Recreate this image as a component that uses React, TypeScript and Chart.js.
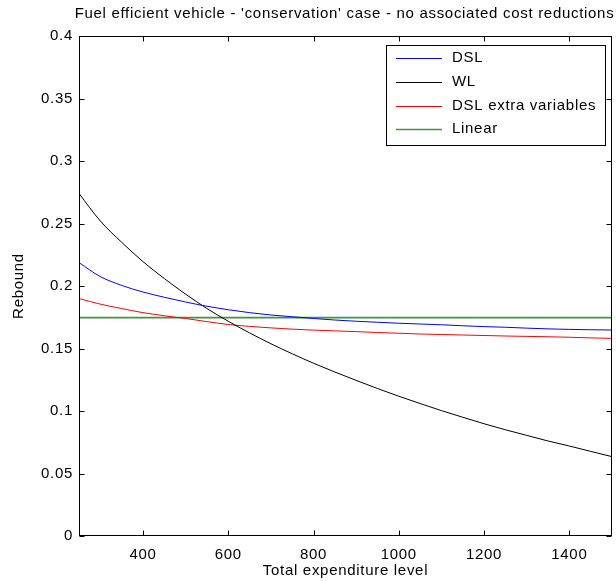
import { useEffect, useRef } from 'react';
import { Chart, registerables } from 'chart.js';

Chart.register(...registerables);

const TITLE = "Fuel efficient vehicle - 'conservation' case - no associated cost reductions";
const X_LABEL = 'Total expenditure level';
const Y_LABEL = 'Rebound';

const xValues = [250, 300, 350, 400, 450, 500, 550, 600, 650, 700, 750, 800, 850, 900, 950, 1000, 1050, 1100, 1150, 1200, 1250, 1300, 1350, 1400, 1450, 1500];
const dsl = [0.2187, 0.2075, 0.2005, 0.1952, 0.1910, 0.1872, 0.1838, 0.1810, 0.1787, 0.1768, 0.1754, 0.1740, 0.1728, 0.1718, 0.1710, 0.1702, 0.1696, 0.1690, 0.1682, 0.1675, 0.1670, 0.1663, 0.1657, 0.1653, 0.1650, 0.1648];
const wl = [0.2740, 0.2520, 0.2350, 0.2195, 0.2060, 0.1935, 0.1820, 0.1718, 0.1625, 0.1538, 0.1458, 0.1382, 0.1312, 0.1245, 0.1180, 0.1118, 0.1060, 0.1003, 0.0950, 0.0898, 0.0850, 0.0805, 0.0760, 0.0720, 0.0677, 0.0635];
const dslExtra = [0.1900, 0.1855, 0.1820, 0.1787, 0.1762, 0.1740, 0.1715, 0.1692, 0.1677, 0.1665, 0.1655, 0.1647, 0.1641, 0.1635, 0.1628, 0.1622, 0.1616, 0.1612, 0.1608, 0.1604, 0.1600, 0.1597, 0.1594, 0.1590, 0.1585, 0.1581];
const linearX = [250, 1500];
const linear = [0.1747, 0.1747];

const seriesNames = ['DSL', 'WL', 'DSL extra variables', 'Linear'];
const seriesColors = ['#0000ff', '#000000', '#ff0000', 'rgb(60,150,60)'];
const seriesWidths = [1, 1, 1, 1.6];

const xTicks = [400, 600, 800, 1000, 1200, 1400];
const xTickLabels = ['400', '600', '800', '1000', '1200', '1400'];
const yTicks = [0, 0.05, 0.1, 0.15, 0.2, 0.25, 0.3, 0.35, 0.4];
const yTickLabels = ['0', '0.05', '0.1', '0.15', '0.2', '0.25', '0.3', '0.35', '0.4'];

const FONT = 'Liberation Sans, Arial, Helvetica, sans-serif';
const FONT_SIZE = 15;
const LETTER_SPACING = '0.7px';

const toPoints = (xs: number[], ys: number[]) => xs.map((x, i) => ({ x, y: ys[i] }));

const spacingPlugin = {
  id: 'letterSpacing',
  beforeDraw(chart: any) {
    try { chart.ctx.letterSpacing = LETTER_SPACING; } catch (e) { /* ignore */ }
  },
};

const framePlugin = {
  id: 'matlabFrame',
  afterDraw(chart: any) {
    const { ctx, chartArea } = chart;
    const xs = chart.scales.x;
    const ys = chart.scales.y;
    const l = Math.round(chartArea.left) + 0.5;
    const r = Math.round(chartArea.right) - 0.5;
    const t = Math.round(chartArea.top) + 0.5;
    const b = Math.round(chartArea.bottom) - 0.5;
    ctx.save();
    try { ctx.letterSpacing = LETTER_SPACING; } catch (e) { /* ignore */ }
    ctx.strokeStyle = '#000';
    ctx.lineWidth = 1;
    ctx.strokeRect(l, t, r - l, b - t);
    const tl = 5;
    ctx.beginPath();
    xTicks.forEach((v) => {
      const px = Math.round(xs.getPixelForValue(v)) + 0.5;
      ctx.moveTo(px, b); ctx.lineTo(px, b - tl);
      ctx.moveTo(px, t); ctx.lineTo(px, t + tl);
    });
    yTicks.forEach((v) => {
      const py = Math.round(ys.getPixelForValue(v)) + 0.5;
      ctx.moveTo(l, py); ctx.lineTo(l + tl, py);
      ctx.moveTo(r, py); ctx.lineTo(r - tl, py);
    });
    ctx.stroke();

    ctx.fillStyle = '#000';
    ctx.font = `${FONT_SIZE}px ${FONT}`;
    ctx.textAlign = 'center';
    ctx.textBaseline = 'middle';
    ctx.fillText(TITLE, (chartArea.left + chartArea.right) / 2 - 1, 14);
    ctx.fillText(X_LABEL, (chartArea.left + chartArea.right) / 2, 571);
    ctx.save();
    ctx.translate(19, (chartArea.top + chartArea.bottom) / 2);
    ctx.rotate(-Math.PI / 2);
    ctx.fillText(Y_LABEL, 0, 0);
    ctx.restore();

    // legend
    const lx = 386.5, ly = 45.5, lw = 219, lh = 100;
    ctx.fillStyle = '#fff';
    ctx.fillRect(lx, ly, lw, lh);
    ctx.strokeStyle = '#000';
    ctx.lineWidth = 1;
    ctx.strokeRect(lx, ly, lw, lh);
    const rows = [58, 82, 105.5, 129];
    chart.data.datasets.forEach((ds: any, i: number) => {
      const y = Math.round(rows[i]) + 0.5;
      ctx.strokeStyle = ds.borderColor;
      ctx.lineWidth = ds.borderWidth;
      ctx.beginPath();
      ctx.moveTo(396, y);
      ctx.lineTo(442, y);
      ctx.stroke();
      ctx.fillStyle = '#000';
      ctx.textAlign = 'left';
      ctx.fillText(ds.label, 452, rows[i]);
    });
    ctx.restore();
  },
};

export default function App() {
  const canvasRef = useRef<HTMLCanvasElement>(null);

  useEffect(() => {
    document.body.style.margin = '0';
    const canvas = canvasRef.current;
    if (!canvas) return;
    const seriesData = [
      toPoints(xValues, dsl),
      toPoints(xValues, wl),
      toPoints(xValues, dslExtra),
      toPoints(linearX, linear),
    ];
    const chart = new Chart(canvas, {
      type: 'line',
      data: {
        datasets: seriesNames.map((name, i) => ({
          label: name,
          data: seriesData[i],
          borderColor: seriesColors[i],
          backgroundColor: seriesColors[i],
          borderWidth: seriesWidths[i],
          pointRadius: 0,
          cubicInterpolationMode: 'monotone' as const,
          fill: false,
        })),
      },
      options: {
        animation: false,
        responsive: false,
        maintainAspectRatio: false,
        layout: { padding: { left: 0, top: 36, right: 4, bottom: 0 } },
        plugins: {
          legend: { display: false },
          title: { display: false },
          tooltip: { enabled: false },
        },
        scales: {
          x: {
            type: 'linear',
            min: 250,
            max: 1500,
            afterBuildTicks: (s: any) => { s.ticks = xTicks.map((v) => ({ value: v })); },
            afterFit: (s: any) => { s.height = 45; },
            ticks: {
              autoSkip: false,
              maxRotation: 0,
              padding: 10,
              color: '#000',
              font: { family: FONT, size: FONT_SIZE },
              callback: (v: any) => xTickLabels[xTicks.indexOf(Number(v))] ?? '',
            },
            grid: { display: false, drawTicks: false },
            border: { display: false },
          },
          y: {
            type: 'linear',
            min: 0,
            max: 0.4,
            afterBuildTicks: (s: any) => { s.ticks = yTicks.map((v) => ({ value: v })); },
            afterFit: (s: any) => { s.width = 79; },
            ticks: {
              autoSkip: false,
              padding: 6,
              color: '#000',
              font: { family: FONT, size: FONT_SIZE },
              callback: (v: any) => {
                const idx = yTicks.findIndex((t) => Math.abs(t - Number(v)) < 1e-9);
                return idx >= 0 ? yTickLabels[idx] : '';
              },
            },
            grid: { display: false, drawTicks: false },
            border: { display: false },
          },
        },
      },
      plugins: [spacingPlugin, framePlugin],
    });
    return () => chart.destroy();
  }, []);

  return (
    <div style={{ position: 'absolute', left: 0, top: 0, width: 616, height: 581, background: '#fff' }}>
      <canvas ref={canvasRef} width={616} height={581} style={{ width: 616, height: 581 }} />
    </div>
  );
}
